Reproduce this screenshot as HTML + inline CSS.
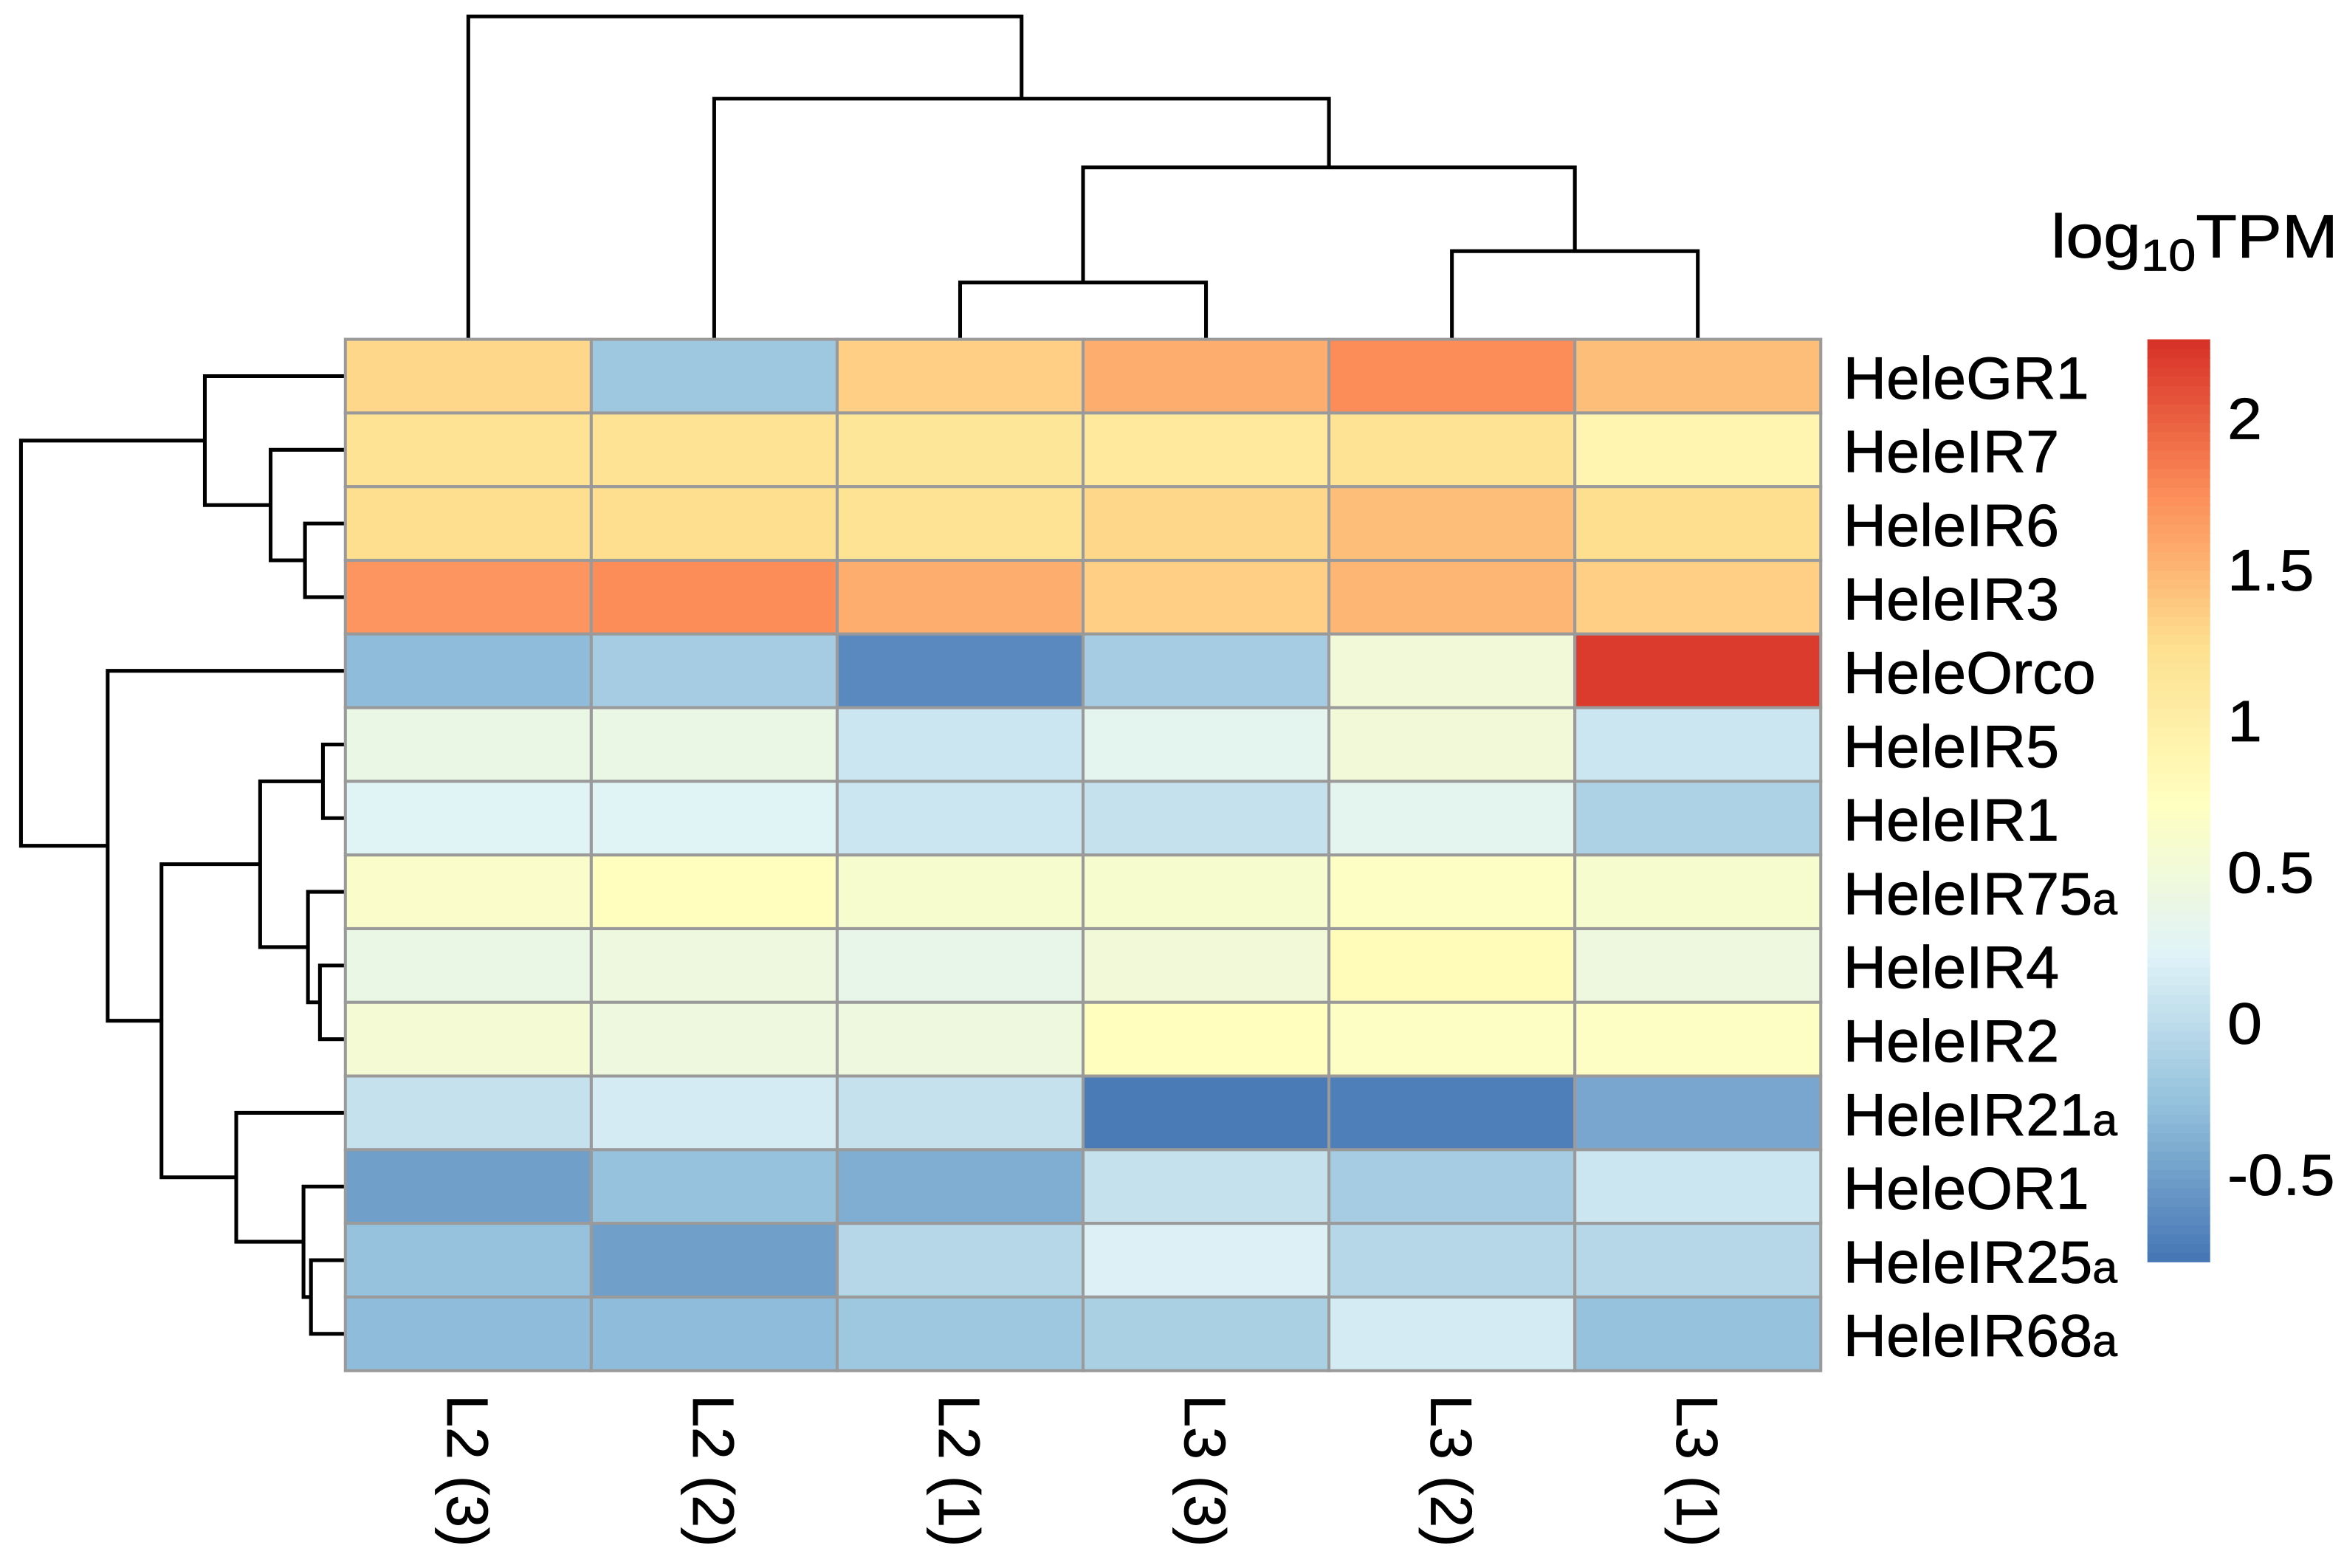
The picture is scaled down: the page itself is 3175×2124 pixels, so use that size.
<!DOCTYPE html>
<html><head><meta charset="utf-8"><style>
html,body{margin:0;padding:0;background:#fff}
svg{display:block}
text{font-family:"Liberation Sans",Arial,sans-serif;fill:#000;stroke:#000;stroke-width:0.4}
</style></head><body>
<svg id="chart" width="3175" height="2124" viewBox="0 0 1568 1049" xmlns="http://www.w3.org/2000/svg">
<g id="dendro"></g>
<g id="cells"></g>
<g id="rowlabels"></g>
<g id="collabels"></g>
<g id="legend"></g>
</svg>
<script>
const genes = ["HeleGR1","HeleIR7","HeleIR6","HeleIR3","HeleOrco","HeleIR5","HeleIR1","HeleIR75a","HeleIR4","HeleIR2","HeleIR21a","HeleOR1","HeleIR25a","HeleIR68a"];
const samples = ["L2 (3)","L2 (2)","L2 (1)","L3 (3)","L3 (2)","L3 (1)"];
const vGR1  = [1.3,-0.2,1.35,1.55,1.75,1.45];
const vIR7  = [1.2,1.2,1.15,1.1,1.2,0.9];
const vIR6  = [1.25,1.25,1.2,1.3,1.45,1.25];
const vIR3  = [1.7,1.75,1.55,1.35,1.5,1.35];
const vOrco = [-0.3,-0.15,-0.65,-0.15,0.5,2.2];
const vIR5  = [0.4,0.4,0.1,0.3,0.5,0.1];
const vIR1  = [0.25,0.25,0.1,0.05,0.3,-0.1];
const vIR75a= [0.65,0.75,0.6,0.6,0.7,0.6];
const vIR4  = [0.4,0.45,0.35,0.5,0.8,0.45];
const vIR2  = [0.55,0.45,0.45,0.75,0.7,0.7];
const vIR21a= [0.05,0.15,0.05,-0.75,-0.72,-0.45];
const vOR1  = [-0.5,-0.25,-0.4,0.05,-0.15,0.1];
const vIR25a= [-0.25,-0.5,-0.05,0.2,-0.05,-0.05];
const vIR68a= [-0.3,-0.3,-0.2,-0.12,0.15,-0.25];
const values = [vGR1,vIR7,vIR6,vIR3,vOrco,vIR5,vIR1,vIR75a,vIR4,vIR2,vIR21a,vOR1,vIR25a,vIR68a];
const legendTicks = [-0.5,0,0.5,1,1.5,2];
const legendTickLabels = ["-0.5","0","0.5","1","1.5","2"];
const vmin = -0.79, vmax = 2.26;
const colMerges = [[2,3,189],[4,5,168],[6,7,112],[1,8,66],[0,9,11]];
const rowMerges = [[2,3,204],[1,14,181],[0,15,137],[5,6,216],[8,9,214],[7,18,206],[17,19,174],[12,13,208],[11,21,203],[10,22,158],[20,23,108],[4,24,72],[16,25,14]];

const NS="http://www.w3.org/2000/svg";
const X0=231,X1=1218,Y0=227,Y1=917;
const cw=(X1-X0)/samples.length, rh=(Y1-Y0)/genes.length;
const colX=i=>X0+cw*(i+0.5), rowY=i=>Y0+rh*(i+0.5);
const pal=["#4575B4","#91BFDB","#E0F3F8","#FFFFBF","#FEE090","#FC8D59","#D73027"];
function hex(h){return [1,3,5].map(k=>parseInt(h.substr(k,2),16));}
function color(v){let t=(v-vmin)/(vmax-vmin);t=Math.max(0,Math.min(1,t))*(pal.length-1);
 let i=Math.min(Math.floor(t),pal.length-2),f=t-i,a=hex(pal[i]),b=hex(pal[i+1]);
 return "rgb("+a.map((c,k)=>Math.round(c+(b[k]-c)*f)).join(",")+")";}
function el(tag,attrs,parent){const e=document.createElementNS(NS,tag);for(const k in attrs)e.setAttribute(k,attrs[k]);parent.appendChild(e);return e;}

const gc=document.getElementById('cells');
values.forEach((row,r)=>row.forEach((v,c)=>{
 const e=el('rect',{x:X0+c*cw,y:Y0+r*rh,width:cw,height:rh,fill:color(v),stroke:"#9a9a9a","stroke-width":2},gc);
 
 
}));
const gr=document.getElementById('rowlabels');
genes.forEach((g,i)=>{
 const m=g.match(/^(.*?)(a?)$/);
 const t=el('text',{transform:"translate(1233,"+(rowY(i)+15)+")","font-size":40},gr);
 
 
 t.textContent=m[1];
 if(m[2]){const s=el('tspan',{"font-size":30},t);s.textContent=m[2];}
});
const gl=document.getElementById('collabels');
samples.forEach((s,i)=>{
 const t=el('text',{transform:"translate("+(colX(i)-14)+",933) rotate(90)","font-size":39},gl);
 
 
 t.textContent=s;
});
const gd=document.getElementById('dendro');
const ln={stroke:"#000","stroke-width":2.5,fill:"none"};
const cpos=samples.map((s,i)=>[colX(i),Y0]);
colMerges.forEach(([a,b,h])=>{
 const A=cpos[a],B=cpos[b];
 const p=el('path',Object.assign({d:`M${A[0]},${A[1]}V${h}H${B[0]}V${B[1]}`},ln),gd);
 
 
 cpos.push([(A[0]+B[0])/2,h]);
});
const rpos=genes.map((g,i)=>[X0,rowY(i)]);
rowMerges.forEach(([a,b,x])=>{
 const A=rpos[a],B=rpos[b];
 const p=el('path',Object.assign({d:`M${A[0]},${A[1]}H${x}V${B[1]}H${B[0]}`},ln),gd);
 
 
 rpos.push([x,(A[1]+B[1])/2]);
});
const lg=document.getElementById('legend');
const LX=1436.5,LW=42,LT=227,LB=844;
const ly=v=>LB-(v-vmin)/(vmax-vmin)*(LB-LT);
const N=100;
for(let k=0;k<N;k++){
 const v0=vmin+(vmax-vmin)*k/N,v1=vmin+(vmax-vmin)*(k+1)/N;
 const r=el('rect',{x:LX,y:ly(v1),width:LW,height:ly(v0)-ly(v1)+0.5,fill:color((v0+v1)/2)},lg);
 
 
}
legendTicks.forEach((v,i)=>{
 const t=el('text',{transform:"translate(1490,"+(ly(v)+14)+") scale(1.07,1)","font-size":39},lg);
 
 
 t.textContent=legendTickLabels[i];
});
const tt=el('text',{transform:"translate(1372,172) scale(1.1,1)","font-size":41},lg);


tt.appendChild(document.createTextNode('log'));
const sub=el('tspan',{"font-size":30,dy:9},tt);sub.textContent='10';
const tp=el('tspan',{dy:-9},tt);tp.textContent='TPM';
</script>
</body></html>
